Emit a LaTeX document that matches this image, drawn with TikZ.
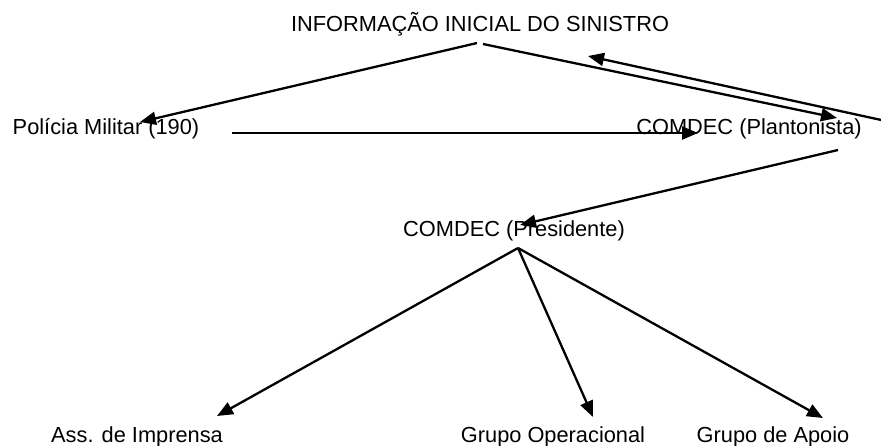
\documentclass[tikz,border=0pt]{standalone}
\usepackage{fontspec}
\setmainfont{Liberation Sans}
\usetikzlibrary{calc,arrows.meta}

\begin{document}
\begin{tikzpicture}[x=0.5pt, y=-0.5pt, main/.style = {inner sep=0, anchor=base, font=\fontsize{10.9}{13}\selectfont}, seta/.style = {line width=1.15pt, -{Triangle[length=8pt,width=6.5pt]}}]
			\useasboundingbox (0,0) rectangle (881,445);
			\node[main] (1) at (480,31) {INFORMAÇÃO INICIAL DO SINISTRO};
			\node[main] (2) at (106,134) {Polícia Militar (190)};
			\node[main] (3) at (749,134) {COMDEC (Plantonista)};
			\node[main] (4) at (514,236) {COMDEC (Presidente)};
			\node[main] (5) at (137,442) {Ass. de Imprensa};
			\node[main] (6) at (553,442) {Grupo Operacional};
			\node[main] (7) at (773,442) {Grupo de Apoio};
			\coordinate (8) at (895,123);
			\draw[seta] ($(1.base)+(-3,12)$) -- ($(2.base)+(34,-12)$);
			\draw[seta] ($(1.base)+(3,13)$) -- ($(3.base)+(88,-16)$);
			\draw[seta] (8) -- ($(1.base)+(108,25)$);
			\draw[seta] ($(2.base)+(126,-1)$) -- ($(3.base)+(-51,-1)$);
			\draw[seta] ($(3.base)+(89,16)$) -- ($(4.base)+(6,-11)$);
			\draw[seta] ($(4.base)+(4,12)$) -- ($(5.base)+(80,-26)$);
			\draw[seta] ($(4.base)+(4,12)$) -- ($(6.base)+(40,-25)$);
			\draw[seta] ($(4.base)+(4,12)$) -- ($(7.base)+(50,-24)$);
		\end{tikzpicture}
\end{document}
